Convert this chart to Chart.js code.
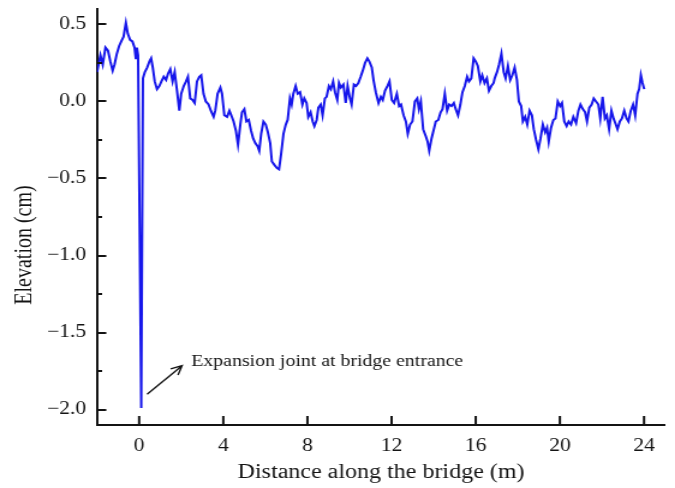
<!DOCTYPE html>
<html>
<head>
<meta charset="utf-8">
<script src="https://cdn.jsdelivr.net/npm/chart.js@4.4.1/dist/chart.umd.min.js"></script>
<style>
  html, body { margin: 0; padding: 0; background: #fff; overflow: hidden; }
  /* the plot is laid out on a narrower canvas and widened, so the serif type reads wide like the original figure */
  #profile { display: block; transform: scaleX(1.2011); transform-origin: 0 0; }
</style>
</head>
<body>
<canvas id="profile" width="562" height="488"></canvas>
<script>
// Elevation profile measured along the bridge deck
const distance = [
  -2.0, -1.84, -1.73, -1.60, -1.48, -1.37, -1.26, -1.17, -1.06, -0.95, -0.85, -0.74, -0.63, -0.54, -0.43, -0.32, -0.22, -0.16, -0.11, -0.05,
  0.10, 0.18, 0.27, 0.38, 0.49, 0.57, 0.65, 0.74, 0.85, 0.96, 1.06, 1.17, 1.28, 1.37, 1.48, 1.59, 1.69,
  1.80, 1.91, 2.00, 2.12, 2.23, 2.32, 2.43, 2.54, 2.64, 2.75, 2.86, 2.95, 3.06, 3.17, 3.30, 3.41, 3.54, 3.62, 3.73, 3.86, 3.94,
  4.05, 4.18, 4.29, 4.38, 4.49, 4.60, 4.70, 4.81, 4.89, 5.00, 5.10, 5.21, 5.32, 5.42,
  5.52, 5.63, 5.71, 5.80, 5.91, 6.02, 6.12, 6.23, 6.31, 6.42, 6.54, 6.65, 6.75, 6.86, 6.97, 7.06, 7.17, 7.25, 7.33, 7.44, 7.54,
  7.65, 7.76, 7.85, 7.96, 8.04, 8.15, 8.25, 8.33, 8.44, 8.52, 8.63, 8.72, 8.83, 8.91, 9.02, 9.11, 9.22,
  9.31, 9.42, 9.50, 9.59, 9.71, 9.82, 9.91, 10.02, 10.10, 10.21, 10.31, 10.42, 10.53, 10.63, 10.74, 10.85, 10.94, 11.06, 11.14,
  11.25, 11.38, 11.49, 11.58, 11.69, 11.80, 11.90, 12.01, 12.12, 12.25, 12.36, 12.45, 12.57, 12.68, 12.77, 12.88, 12.99,
  13.11, 13.22, 13.30, 13.39, 13.50, 13.61, 13.71, 13.79, 13.90, 14.01, 14.10, 14.22, 14.33, 14.42, 14.53, 14.64, 14.74, 14.85,
  14.96, 15.05, 15.16, 15.27, 15.37, 15.48, 15.59, 15.68, 15.79, 15.90, 16.00, 16.10, 16.22, 16.31, 16.42, 16.53, 16.63, 16.74, 16.85,
  16.90, 17.01, 17.11, 17.22, 17.33, 17.42, 17.53, 17.64, 17.74, 17.85, 17.96, 18.05, 18.16, 18.24, 18.35, 18.45, 18.56, 18.67,
  18.76, 18.87, 18.98, 19.08, 19.19, 19.30, 19.39, 19.47, 19.58, 19.69, 19.79, 19.90, 20.01, 20.10, 20.21, 20.32, 20.42, 20.53, 20.64,
  20.77, 20.88, 20.98, 21.09, 21.20, 21.29, 21.40, 21.51, 21.61, 21.72, 21.83, 21.92, 22.03, 22.14, 22.23, 22.34, 22.45, 22.55,
  22.66, 22.74, 22.85, 22.95, 23.06, 23.17, 23.26, 23.37, 23.48, 23.58, 23.69, 23.77, 23.85, 23.93, 24.01
];
const elevation = [
  0.19, 0.30, 0.24, 0.35, 0.33, 0.26, 0.20, 0.24, 0.31, 0.36, 0.39, 0.42, 0.51, 0.44, 0.40, 0.39, 0.35, 0.28, 0.35, 0.30,
  -1.99, 0.15, 0.19, 0.22, 0.26, 0.28, 0.22, 0.13, 0.08, 0.10, 0.13, 0.16, 0.14, 0.18, 0.21, 0.13, 0.19,
  0.07, -0.06, 0.05, 0.10, 0.13, 0.16, 0.02, 0.01, -0.01, 0.13, 0.16, 0.17, 0.05, 0.00, -0.02, -0.06, -0.10, -0.06, 0.05, 0.09, 0.05,
  -0.09, -0.10, -0.06, -0.09, -0.13, -0.19, -0.28, -0.15, -0.07, -0.05, -0.13, -0.12, -0.19, -0.24,
  -0.27, -0.29, -0.32, -0.21, -0.13, -0.15, -0.20, -0.27, -0.39, -0.41, -0.43, -0.44, -0.34, -0.21, -0.15, -0.12, 0.02, -0.02, 0.05, 0.10, 0.05,
  0.06, -0.02, 0.02, -0.01, -0.10, -0.07, -0.13, -0.16, -0.12, -0.04, -0.02, -0.09, 0.02, 0.03, 0.10, 0.08, 0.13,
  0.06, 0.01, 0.12, 0.09, 0.11, -0.01, 0.10, 0.02, -0.02, 0.11, 0.10, 0.12, 0.16, 0.20, 0.25, 0.28, 0.26, 0.22, 0.14,
  0.06, -0.01, 0.03, 0.01, 0.07, 0.10, 0.13, 0.01, -0.01, 0.05, -0.03, -0.02, -0.09, -0.13, -0.21, -0.15, -0.13,
  0.00, 0.02, -0.05, 0.00, -0.18, -0.22, -0.26, -0.32, -0.24, -0.18, -0.13, -0.12, -0.07, -0.05, 0.05, -0.06, -0.02, -0.03,
  -0.01, -0.05, -0.09, -0.02, 0.06, 0.10, 0.16, 0.13, 0.15, 0.28, 0.26, 0.23, 0.13, 0.17, 0.12, 0.15, 0.07, 0.10, 0.12,
  0.15, 0.19, 0.24, 0.31, 0.19, 0.15, 0.23, 0.14, 0.17, 0.22, 0.14, 0.00, -0.03, -0.13, -0.10, -0.15, -0.06, -0.09,
  -0.18, -0.25, -0.31, -0.24, -0.15, -0.20, -0.17, -0.26, -0.17, -0.12, -0.11, 0.00, -0.03, -0.01, -0.13, -0.16, -0.13, -0.15, -0.10,
  -0.14, -0.06, -0.02, -0.05, -0.07, -0.13, -0.04, -0.02, 0.02, 0.00, -0.02, -0.11, 0.03, -0.11, -0.09, -0.18, -0.06, -0.11,
  -0.15, -0.18, -0.13, -0.11, -0.06, -0.11, -0.13, -0.06, -0.02, -0.09, 0.05, 0.08, 0.17, 0.12, 0.08
];
const xTicks = [0, 4, 8, 12, 16, 20, 24];
const yTicks = [-2.0, -1.5, -1.0, -0.5, 0.0, 0.5];
const jointNote = 'Expansion joint at bridge entrance';
const arrowFrom = [0.38, -1.90];
const arrowTo = [2.04, -1.715];
const notePos = [2.48, -1.69];

const serif = '"Liberation Serif", "Times New Roman", serif';
const ink = '#141414';

// inward tick marks, the y-axis title and the joint callout
const overlay = {
  id: 'overlay',
  afterDraw(chart) {
    const { ctx, chartArea: area, scales: { x, y } } = chart;
    ctx.save();
    ctx.strokeStyle = ink;
    ctx.lineWidth = 2;
    ctx.beginPath();
    yTicks.forEach(v => {
      const py = Math.round(y.getPixelForValue(v));
      ctx.moveTo(area.left, py);
      ctx.lineTo(area.left + 7.7, py);
      const mid = v + 0.25;
      if (mid < y.max) {
        const pm = Math.round(y.getPixelForValue(mid));
        ctx.moveTo(area.left, pm);
        ctx.lineTo(area.left + 4.2, pm);
      }
    });
    xTicks.forEach(v => {
      const px = x.getPixelForValue(v);
      ctx.moveTo(px, area.bottom);
      ctx.lineTo(px, area.bottom - 9);
    });
    ctx.stroke();

    // y-axis title
    ctx.fillStyle = ink;
    ctx.font = '20px ' + serif;
    ctx.textAlign = 'center';
    ctx.textBaseline = 'middle';
    ctx.translate(20.8, 245);
    ctx.rotate(-Math.PI / 2);
    ctx.fillText('Elevation (cm)', 0, 0);
    ctx.setTransform(1, 0, 0, 1, 0, 0);

    // arrow pointing at the joint
    const x0 = x.getPixelForValue(arrowFrom[0]), y0 = y.getPixelForValue(arrowFrom[1]);
    const x1 = x.getPixelForValue(arrowTo[0]), y1 = y.getPixelForValue(arrowTo[1]);
    const ang = Math.atan2(y1 - y0, x1 - x0);
    const head = 10;
    ctx.lineWidth = 1.4;
    ctx.beginPath();
    ctx.moveTo(x0, y0);
    ctx.lineTo(x1, y1);
    ctx.moveTo(x1 - head * Math.cos(ang - 0.45), y1 - head * Math.sin(ang - 0.45));
    ctx.lineTo(x1, y1);
    ctx.lineTo(x1 - head * Math.cos(ang + 0.45), y1 - head * Math.sin(ang + 0.45));
    ctx.stroke();

    ctx.font = '16.5px ' + serif;
    ctx.textAlign = 'left';
    ctx.fillText(jointNote, x.getPixelForValue(notePos[0]), y.getPixelForValue(notePos[1]));
    ctx.restore();
  }
};

new Chart(document.getElementById('profile'), {
  type: 'line',
  data: {
    datasets: [{
      data: distance.map((d, i) => ({ x: d, y: elevation[i] })),
      borderColor: 'rgb(22, 22, 235)',
      borderWidth: 2,
      pointRadius: 0,
      tension: 0,
      fill: false
    }]
  },
  options: {
    responsive: false,
    devicePixelRatio: 1,
    animation: false,
    layout: { padding: { top: 9, right: 8.3, left: 0, bottom: 0 } },
    plugins: { legend: { display: false }, tooltip: { enabled: false } },
    scales: {
      x: {
        type: 'linear',
        min: -2,
        max: 25,
        afterBuildTicks: s => { s.ticks = xTicks.map(v => ({ value: v })); },
        afterFit: s => { s.height = 63; s.paddingLeft = 0; s.paddingRight = 0; },
        grid: { display: false, drawTicks: false },
        border: { display: true, color: ink, width: 2 },
        ticks: {
          padding: 10,
          color: ink,
          font: { family: serif, size: 18 },
          maxRotation: 0,
          callback: v => String(v)
        },
        title: {
          display: true,
          text: 'Distance along the bridge (m)',
          color: ink,
          font: { family: serif, size: 20 },
          padding: { top: 0, bottom: 3 }
        }
      },
      y: {
        min: -2.1,
        max: 0.6,
        afterBuildTicks: s => { s.ticks = yTicks.map(v => ({ value: v })); },
        afterFit: s => { s.width = 80.8; s.paddingTop = 0; s.paddingBottom = 0; },
        grid: { display: false, drawTicks: false },
        border: { display: true, color: ink, width: 2 },
        ticks: {
          padding: 9,
          color: ink,
          font: { family: serif, size: 18 },
          callback: v => v.toFixed(1).replace('-', '\u2212')
        }
      }
    }
  },
  plugins: [overlay]
});
</script>
</body>
</html>
